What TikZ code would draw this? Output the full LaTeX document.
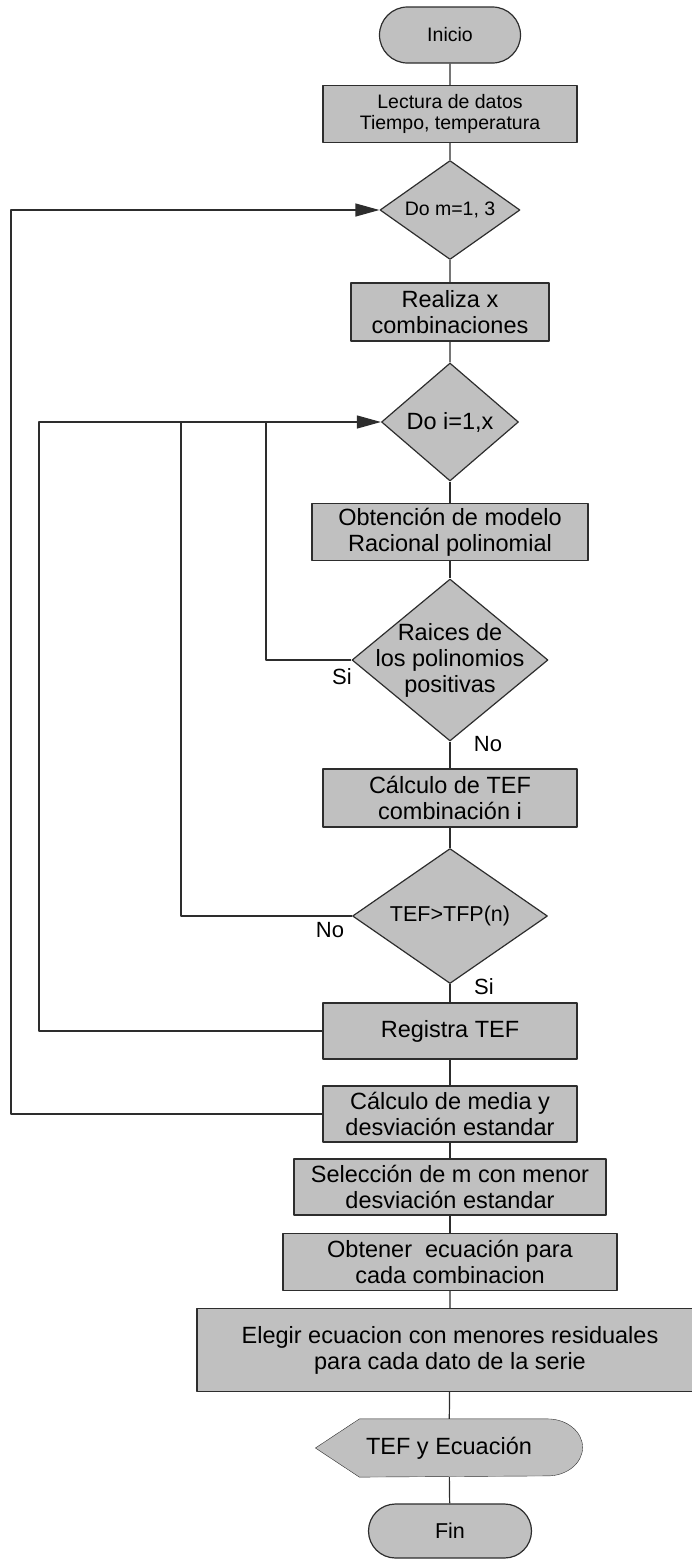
\documentclass[tikz,border=0pt]{standalone}
\usepackage{fontspec}
\setmainfont{Liberation Sans}
\usetikzlibrary{arrows.meta,shapes.geometric,shapes.misc,backgrounds}

\definecolor{boxgray}{RGB}{192,192,192}
\definecolor{linegray}{RGB}{45,45,45}
\newcommand{\txtL}{\fontsize{23.5}{26}\selectfont}
\newcommand{\txtS}{\fontsize{19.5}{20.5}\selectfont}

\tikzset{
  proc/.style={draw=linegray, fill=boxgray, rectangle, inner sep=0, align=center, font=\txtL},
  term/.style={draw=linegray, fill=boxgray, rounded rectangle, inner sep=0, font=\txtS},
  decide/.style={draw=linegray, fill=boxgray, diamond, inner sep=0, align=center, font=\txtL},
  outp/.style={inner sep=0, font=\txtL},
  link/.style={draw=linegray},
  loopline/.style={draw=linegray, -{Triangle[length=24pt,width=13pt]}},
  lbl/.style={inner sep=0, font=\fontsize{22}{24}\selectfont},
}

\begin{document}
\begin{tikzpicture}[x=1pt, y=-1pt, line width=1.2pt, line join=round]
  \useasboundingbox (0,0) rectangle (692,1559);
  % Main column.
  \node[term, minimum width=141, minimum height=56] (inicio) at (450,35) {Inicio};
  \node[proc, font=\txtS, minimum width=254, minimum height=57] (lectura) at (450,114) {Lectura de datos\\Tiempo, temperatura};
  \node[decide, font=\txtS, aspect=1.4, minimum width=140, minimum height=99] (dom) at (450,210) {Do m=1, 3};
  \node[proc, minimum width=198, minimum height=58] (realiza) at (450,312) {Realiza x\\combinaciones};
  \node[decide, aspect=1.2, minimum width=137, minimum height=118] (doi) at (450,422) {Do i=1,x};
  \node[proc, minimum width=276, minimum height=57] (obtencion) at (450,532) {Obtención de modelo\\Racional polinomial};
  \node[decide, minimum width=196, minimum height=162,
        label={[font=\txtL, align=center, inner sep=0]center:Raices de\\los polinomios\\positivas}] (raices) at (450,660) {};
  \node[proc, minimum width=254, minimum height=58] (calctef) at (450,798) {Cálculo de TEF\\combinación i};
  \node[decide, font=\fontsize{21.5}{23}\selectfont, aspect=1.45, minimum width=195, minimum height=135] (tefgt) at (450,916) {TEF>TFP(n)};
  \node[proc, minimum width=254, minimum height=56] (registra) at (450,1031) {Registra TEF};
  \node[proc, minimum width=254, minimum height=56] (media) at (450,1114) {Cálculo de media y\\desviación estandar};
  \node[proc, minimum width=312, minimum height=56] (seleccion) at (450,1187) {Selección de m con menor\\desviación estandar};
  \node[proc, minimum width=334, minimum height=57] (obtener) at (450,1262) {Obtener\ \ ecuación para\\cada combinacion};
  \node[proc, minimum width=506, minimum height=83] (elegir) at (450,1350) {Elegir ecuacion con menores residuales\\para cada dato de la serie};
  \node[outp, minimum width=266, minimum height=57] (salida) at (449,1448) {TEF y Ecuación};
  \node[term, font=\fontsize{21.5}{23}\selectfont, minimum width=163, minimum height=54] (fin) at (450,1531) {Fin};
  % Display shape behind the output text.
  \begin{scope}[on background layer]
    \filldraw[draw=linegray, fill=boxgray] (salida.west) -- ([xshift=44pt]salida.north west)
      -- ([xshift=-35pt]salida.north east) arc[start angle=90, end angle=-90, x radius=35pt, y radius=28.5pt]
      -- ([xshift=44pt]salida.south west) -- cycle;
  \end{scope}
  % Straight connectors down the column.
  \draw[link] (inicio) -- (lectura) (lectura) -- (dom) (dom) -- (realiza) (realiza) -- (doi);
  \draw[link] (doi) -- (obtencion) (obtencion) -- (raices) (raices) -- (calctef) (calctef) -- (tefgt);
  \draw[link] (tefgt) -- (registra) (registra) -- (media) (media) -- (seleccion) (seleccion) -- (obtener);
  \draw[link] (obtener) -- (elegir) (elegir) -- (salida) (salida) -- (fin);
  % Loops back to the two Do nodes.
  \coordinate (mleft) at (11,210);
  \coordinate (ileft) at (39,422);
  \coordinate (itef) at (181,422);
  \coordinate (iraiz) at (266,422);
  \draw[loopline] (media.west) -| (mleft) -- (dom.west);
  \draw[loopline] (registra.west) -| (ileft) -- (doi.west);
  \draw[link] (tefgt.west) -| (itef);
  \draw[link] (raices.west) -| (iraiz);
  % Branch labels.
  \node[lbl] (siraiz) at (342,677) {Si};
  \node[lbl] (noraiz) at (488,744) {No};
  \node[lbl] (notef) at (330,930) {No};
  \node[lbl] (sitef) at (484,987) {Si};
\end{tikzpicture}
\end{document}
